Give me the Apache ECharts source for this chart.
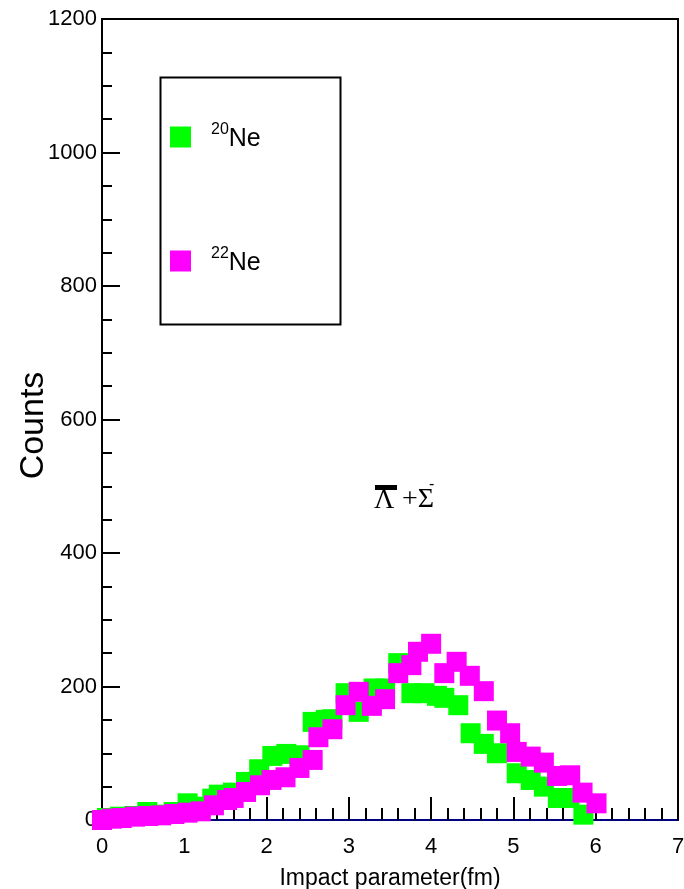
<!DOCTYPE html>
<html>
<head>
<meta charset="utf-8">
<script src="https://cdn.jsdelivr.net/npm/echarts@6/dist/echarts.min.js"></script>
<style>html,body{margin:0;padding:0;background:#fff}#c{width:684px;height:889px}</style>
</head>
<body>
<div id="c"></div>
<script>
// Data: [impact parameter (fm), counts]
const ne20 = [
  [0.06,3],[0.22,5],[0.39,6],[0.55,12],[0.71,8],[0.87,12],[1.04,25],[1.20,20],
  [1.34,32],[1.42,38],[1.59,41],[1.75,57],[1.91,76],[2.07,96],[2.24,99],[2.40,97],
  [2.56,147],[2.72,150],[2.80,151],[2.96,190],[3.12,162],[3.30,197],[3.44,197],
  [3.60,235],[3.76,190],[3.92,190],[4.07,186],[4.16,183],[4.33,172],[4.48,130],
  [4.64,114],[4.80,100],[5.04,70],[5.21,60],[5.37,50],[5.54,33],[5.68,33],[5.85,8]
];
const ne22 = [
  [0.00,0],[0.12,2],[0.24,3],[0.40,5],[0.56,6],[0.72,7],[0.88,9],[1.04,11],
  [1.20,13],[1.36,22],[1.52,30],[1.60,33],[1.75,42],[1.92,52],[2.06,60],[2.23,64],
  [2.40,78],[2.56,90],[2.63,124],[2.80,136],[2.96,172],[3.12,192],[3.28,171],
  [3.44,181],[3.60,220],[3.76,232],[3.84,252],[4.00,264],[4.16,220],[4.31,237],
  [4.47,216],[4.64,193],[4.80,149],[4.96,130],[5.04,102],[5.21,95],[5.37,86],
  [5.53,66],[5.69,67],[5.84,41],[6.01,25]
];
const seriesNames = ['20Ne', '22Ne'];
const xTicks = [0, 7, 1];
const yTicks = [0, 1200, 200];

const chart = echarts.init(document.getElementById('c'), null, {renderer: 'canvas'});
const font = 'Liberation Sans, Arial, sans-serif';
chart.setOption({
  backgroundColor: '#fff',
  animation: false,
  grid: {left: 102, right: 6, top: 19, bottom: 69, show: true, borderColor: '#000', borderWidth: 2,
         backgroundColor: 'transparent', containLabel: false, outerBoundsMode: 'none'},
  xAxis: {
    type: 'value', min: xTicks[0], max: xTicks[1], interval: xTicks[2],
    name: 'Impact parameter(fm)', nameLocation: 'middle', nameGap: 47, nameMoveOverlap: false,
    nameTextStyle: {fontFamily: font, fontSize: 23, color: '#000'},
    axisLine: {show: true, onZero: false, lineStyle: {color: '#000080', width: 2}},
    axisTick: {show: true, inside: true, length: 23, lineStyle: {color: '#000', width: 2}},
    minorTick: {show: true, splitNumber: 5, length: 12, lineStyle: {color: '#000', width: 2}},
    axisLabel: {fontFamily: font, fontSize: 22, color: '#000', margin: 16, formatter: v => String(v)},
    splitLine: {show: false}
  },
  yAxis: {
    type: 'value', min: yTicks[0], max: yTicks[1], interval: yTicks[2],
    name: 'Counts', nameLocation: 'middle', nameGap: 51, nameMoveOverlap: false,
    nameTextStyle: {fontFamily: font, fontSize: 34, color: '#000', padding: [0, 12, 0, 0]},
    axisLine: {show: true, onZero: false, lineStyle: {color: '#000', width: 2}},
    axisTick: {show: true, inside: true, length: 18, lineStyle: {color: '#000', width: 2}},
    minorTick: {show: true, splitNumber: 4, length: 10, lineStyle: {color: '#000', width: 2}},
    axisLabel: {fontFamily: font, fontSize: 22, color: '#000', margin: 5, formatter: v => String(v)},
    splitLine: {show: false}
  },
  legend: {
    left: 170, top: 122, padding: 0, orient: 'vertical', itemWidth: 21, itemHeight: 21, itemGap: 94,
    icon: 'rect', selectedMode: false,
    data: seriesNames,
    formatter: function (n) { return '{s|' + n.slice(0, 2) + '}{n|' + n.slice(2) + '}'; },
    textStyle: {
      padding: [0, 0, 0, 15],
      rich: {
        s: {fontFamily: font, fontSize: 16, color: '#000', verticalAlign: 'top', lineHeight: 30},
        n: {fontFamily: font, fontSize: 25, color: '#000', verticalAlign: 'bottom', lineHeight: 30}
      }
    }
  },
  graphic: [
    {type: 'rect', left: 158, top: 75, shape: {width: 180, height: 247}, style: {fill: 'none', stroke: '#000', lineWidth: 2}, z: 10},
    {type: 'rect', left: 375, top: 485, shape: {width: 22, height: 5}, style: {fill: '#000'}, z: 10},
    {type: 'text', left: 374, top: 487, style: {text: 'Λ', font: '28px "Liberation Serif", serif', fill: '#000'}, z: 10},
    {type: 'text', left: 402, top: 486, style: {text: '+Σ', font: '28px "Liberation Serif", serif', fill: '#000'}, z: 10},
    {type: 'text', left: 429, top: 477, style: {text: '-', font: '16px "Liberation Sans", sans-serif', fill: '#000'}, z: 10}
  ],
  series: [
    {name: seriesNames[0], type: 'scatter', symbol: 'rect', symbolSize: 20, data: ne20, itemStyle: {color: '#00ff00', opacity: 1}, z: 3},
    {name: seriesNames[1], type: 'scatter', symbol: 'rect', symbolSize: 20, data: ne22, itemStyle: {color: '#ff00ff', opacity: 1}, z: 4}
  ]
});
</script>
</body>
</html>
